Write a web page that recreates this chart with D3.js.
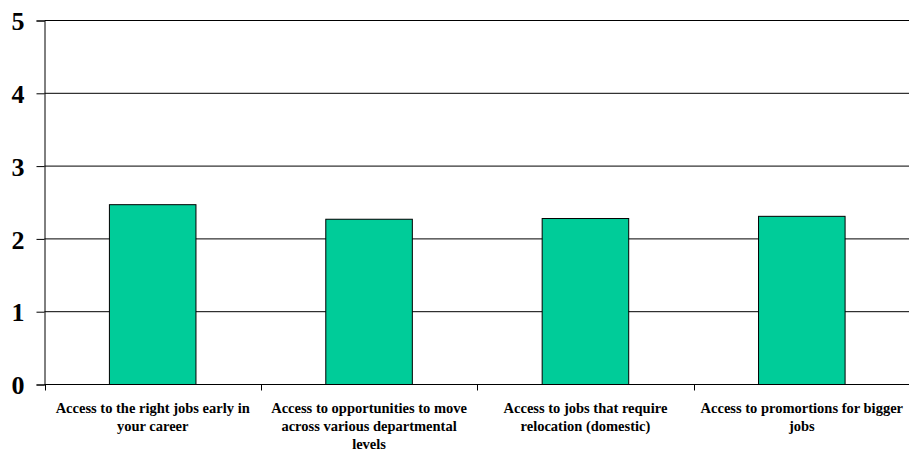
<!DOCTYPE html>
<html><head><meta charset="utf-8">
<script src="https://cdn.jsdelivr.net/npm/d3@7"></script>
<style>body{margin:0;background:#fff}svg{display:block}</style>
</head><body><svg id="c" width="909" height="454"></svg>
<script>
const categories = [
  "Access to the right jobs early in your career",
  "Access to opportunities to move across various departmental levels",
  "Access to jobs that require relocation (domestic)",
  "Access to promortions for bigger jobs"
];
const values = [2.47, 2.27, 2.28, 2.31];
const yTicks = [0, 1, 2, 3, 4, 5];

const svg = d3.select("#c");
const m = {left: 44.5, right: 909, top: 20.5, bottom: 384.5};
const x = d3.scaleBand().domain(categories).range([m.left, 910]).paddingInner(0).paddingOuter(0);
const y = d3.scaleLinear().domain([0, 5]).range([m.bottom, m.top]);

// gridlines
svg.append("g").selectAll("line").data(yTicks.filter(d => d > 0)).join("line")
  .attr("x1", m.left).attr("x2", 909).attr("y1", d => y(d)).attr("y2", d => y(d))
  .attr("stroke", "#000").attr("stroke-width", 1);

// bars
const bw = x.bandwidth() * 0.4;
svg.append("g").selectAll("rect").data(values).join("rect")
  .attr("x", (d, i) => x(categories[i]) + x.bandwidth() / 2 - bw / 2)
  .attr("y", d => y(d))
  .attr("width", bw)
  .attr("height", d => y(0) - y(d))
  .attr("fill", "#00cc99").attr("stroke", "#000").attr("stroke-width", 1);

// y axis
const yAxis = d3.axisLeft(y).tickValues(yTicks).tickSize(8).tickPadding(12).tickFormat(d3.format("d"));
const gy = svg.append("g").attr("transform", `translate(${m.left},0)`).call(yAxis);
gy.select(".domain").attr("stroke", "#000");
gy.selectAll("text").attr("font-family", "'Liberation Serif', 'Times New Roman', serif")
  .attr("font-weight", "bold").attr("font-size", 26).attr("fill", "#000").attr("dy", "0.35em");

// x axis
const xAxis = d3.axisBottom(x).tickSize(0).tickFormat("");
const gx = svg.append("g").attr("transform", `translate(0,${m.bottom})`).call(xAxis);
gx.select(".domain").attr("d", `M${m.left},0H909`).attr("stroke", "#000");
// category boundary ticks
gx.selectAll(".bt").data(categories).join("line").attr("class", "bt")
  .attr("x1", d => Math.round(x(d)) + 0.5).attr("x2", d => Math.round(x(d)) + 0.5)
  .attr("y1", 0).attr("y2", 6).attr("stroke", "#000");

// labels with wrapping
const lab = svg.append("g").attr("font-family", "'Liberation Serif', 'Times New Roman', serif")
  .attr("font-weight", "bold").attr("font-size", 14.5).attr("text-anchor", "middle");
categories.forEach(c => {
  const t = lab.append("text").attr("x", x(c) + x.bandwidth() / 2).attr("y", 413);
  const words = c.split(" ");
  let line = [];
  let ts = t.append("tspan").attr("x", x(c) + x.bandwidth() / 2).attr("dy", 0);
  words.forEach(w => {
    line.push(w);
    ts.text(line.join(" "));
    if (ts.node().getComputedTextLength() > 210 && line.length > 1) {
      line.pop(); ts.text(line.join(" "));
      line = [w];
      ts = t.append("tspan").attr("x", x(c) + x.bandwidth() / 2).attr("dy", 18).text(w);
    }
  });
});
</script></body></html>
